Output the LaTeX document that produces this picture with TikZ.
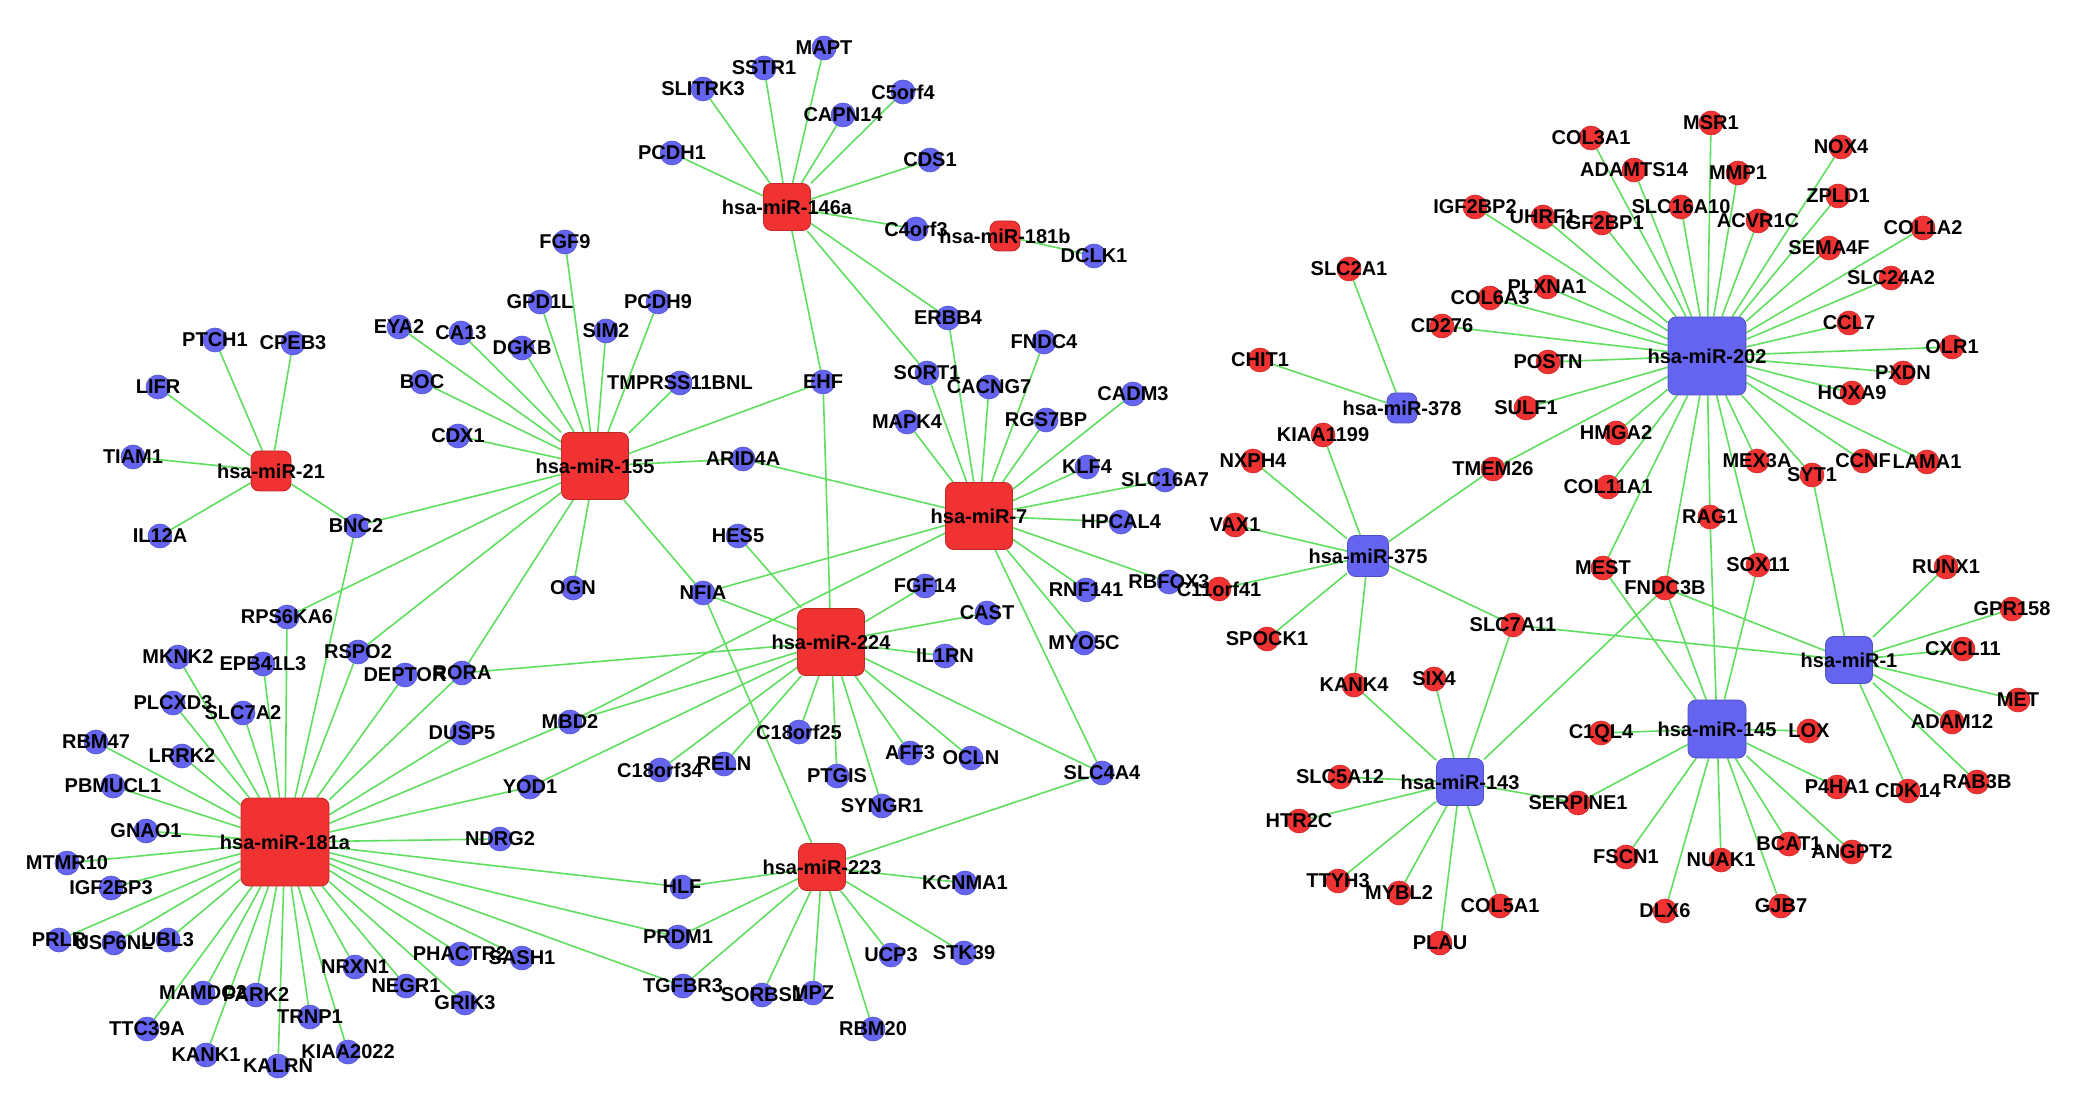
\documentclass[tikz,border=0pt]{standalone}
\usepackage{fontspec}
\setmainfont{Liberation Sans}
\pgfdeclarelayer{background}
\pgfdeclarelayer{foreground}
\pgfsetlayers{background,main,foreground}
\definecolor{blueg}{RGB}{100,100,240}
\definecolor{redg}{RGB}{240,50,50}
\definecolor{linkgreen}{RGB}{95,222,95}

\begin{document}
\begin{tikzpicture}[x=0.5pt, y=-0.5pt,
  gene/.style={circle, fill=#1, draw=#1!85!black, line width=0.3pt, minimum size=12pt, inner sep=0pt},
  mir/.style={rectangle, rounded corners=4pt, fill=#1, draw=#1!80!black, line width=0.4pt, inner sep=0pt},
  txt/.style={font=\bfseries\fontsize{10}{12}\selectfont, inner sep=0pt},
  tie/.style={draw=linkgreen, line width=0.8pt}]
  \useasboundingbox (0,0) rectangle (2098,1106);

  % miRNAs, up-regulated
  \foreach \x/\y/\s/\m/\t in {787/207/47/m146a/hsa-miR-146a, 1005/236/30/m181b/hsa-miR-181b,
      271/471/40/m21/hsa-miR-21, 595/466/67/m155/hsa-miR-155, 979/516/67/m7/hsa-miR-7,
      831/642/67/m224/hsa-miR-224, 285/842/88/m181a/hsa-miR-181a, 822/867/47/m223/hsa-miR-223}{
    \node[mir=redg, minimum size=\s*0.5pt] (\m) at (\x,\y) {};
    \begin{pgfonlayer}{foreground}\node[txt] at (\m) {\t};\end{pgfonlayer}
  }
  % miRNAs, down-regulated
  \foreach \x/\y/\s/\m/\t in {1707/356/78/m202/hsa-miR-202, 1402/408/30/m378/hsa-miR-378,
      1368/556/41/m375/hsa-miR-375, 1849/660/47/m1/hsa-miR-1,
      1717/729/58/m145/hsa-miR-145, 1460/782/47/m143/hsa-miR-143}{
    \node[mir=blueg, minimum size=\s*0.5pt] (\m) at (\x,\y) {};
    \begin{pgfonlayer}{foreground}\node[txt] at (\m) {\t};\end{pgfonlayer}
  }

  % Target genes, down-regulated
  \foreach \x/\y/\g in {215/340/PTCH1, 293/343/CPEB3, 158/387/LIFR, 133/457/TIAM1, 160/536/IL12A,
      356/526/BNC2, 399/327/EYA2, 461/333/CA13, 522/348/DGKB, 540/302/GPD1L, 565/242/FGF9,
      606/331/SIM2, 658/302/PCDH9, 422/382/BOC, 458/436/CDX1, 680/383/TMPRSS11BNL, 573/588/OGN,
      823/382/EHF, 743/459/ARID4A, 738/536/HES5, 703/593/NFIA, 672/153/PCDH1, 703/89/SLITRK3,
      764/68/SSTR1, 824/48/MAPT, 843/115/CAPN14, 903/92/C5orf4, 930/160/CDS1, 916/229/C4orf3,
      1094/256/DCLK1, 948/318/ERBB4, 927/373/SORT1, 1044/342/FNDC4, 989/387/CACNG7,
      907/422/MAPK4, 1046/420/RGS7BP, 1133/394/CADM3, 1087/467/KLF4, 1165/480/SLC16A7,
      1121/522/HPCAL4, 1169/582/RBFOX3, 1086/590/RNF141, 1084/643/MYO5C, 1102/773/SLC4A4,
      925/586/FGF14, 987/613/CAST, 945/656/IL1RN, 799/732/C18orf25, 660/770/C18orf34,
      724/764/RELN, 837/776/PTGIS, 910/753/AFF3, 971/758/OCLN, 882/806/SYNGR1, 570/722/MBD2,
      530/787/YOD1, 462/733/DUSP5, 500/839/NDRG2, 287/617/RPS6KA6, 178/657/MKNK2,
      263/664/EPB41L3, 358/652/RSPO2, 405/675/DEPTOR, 462/673/RORA, 173/703/PLCXD3,
      243/713/SLC7A2, 96/742/RBM47, 182/756/LRRK2, 113/786/PBMUCL1, 146/831/GNAO1,
      67/863/MTMR10, 111/888/IGF2BP3, 59/940/PRLR, 114/943/USP6NL, 168/940/UBL3,
      460/954/PHACTR2, 522/958/SASH1, 355/967/NRXN1, 203/993/MAMDC2, 256/995/PARK2,
      406/986/NEGR1, 465/1003/GRIK3, 310/1017/TRNP1, 147/1029/TTC39A, 206/1055/KANK1,
      348/1052/KIAA2022, 278/1066/KALRN, 682/887/HLF, 678/937/PRDM1, 683/986/TGFBR3,
      762/995/SORBS1, 813/993/MPZ, 873/1029/RBM20, 891/955/UCP3, 964/953/STK39, 965/883/KCNMA1}{
    \node[gene=blueg] (\g) at (\x,\y) {};
    \begin{pgfonlayer}{foreground}\node[txt] at (\g) {\g};\end{pgfonlayer}
  }

  % Target genes, up-regulated
  \foreach \x/\y/\g in {1349/269/SLC2A1, 1260/360/CHIT1, 1475/207/IGF2BP2, 1543/217/UHRF1,
      1602/223/IGF2BP1, 1591/138/COL3A1, 1634/170/ADAMTS14, 1681/207/SLC16A10, 1711/123/MSR1,
      1738/173/MMP1, 1758/221/ACVR1C, 1841/147/NOX4, 1838/196/ZPLD1, 1829/248/SEMA4F,
      1923/228/COL1A2, 1891/278/SLC24A2, 1849/323/CCL7, 1952/347/OLR1, 1903/373/PXDN,
      1852/393/HOXA9, 1547/287/PLXNA1, 1490/298/COL6A3, 1442/326/CD276, 1548/362/POSTN,
      1526/408/SULF1, 1323/435/KIAA1199, 1253/461/NXPH4, 1493/469/TMEM26, 1235/525/VAX1,
      1219/589/C11orf41, 1267/639/SPOCK1, 1354/685/KANK4, 1434/679/SIX4, 1513/625/SLC7A11,
      1616/433/HMGA2, 1608/487/COL11A1, 1757/461/MEX3A, 1863/461/CCNF, 1927/462/LAMA1,
      1812/475/SYT1, 1710/517/RAG1, 1603/568/MEST, 1758/565/SOX11, 1665/588/FNDC3B,
      1946/567/RUNX1, 2012/609/GPR158, 1963/649/CXCL11, 2018/700/MET, 1952/722/ADAM12,
      1977/782/RAB3B, 1908/791/CDK14, 1837/787/P4HA1, 1809/731/LOX, 1601/733/C1QL4,
      1578/803/SERPINE1, 1626/857/FSCN1, 1721/860/NUAK1, 1789/844/BCAT1, 1852/852/ANGPT2,
      1665/911/DLX6, 1781/906/GJB7, 1340/777/SLC5A12, 1299/821/HTR2C, 1338/881/TTYH3,
      1399/893/MYBL2, 1440/943/PLAU, 1500/906/COL5A1}{
    \node[gene=redg] (\g) at (\x,\y) {};
    \begin{pgfonlayer}{foreground}\node[txt] at (\g) {\g};\end{pgfonlayer}
  }

  % Interactions
  \begin{pgfonlayer}{background}
    \fill[white] (0,0) rectangle (2098,1106);
    \foreach \h/\list in {
        m146a/{PCDH1,SLITRK3,SSTR1,MAPT,CAPN14,C5orf4,CDS1,C4orf3,ERBB4,SORT1,EHF},
        m181b/{DCLK1},
        m21/{PTCH1,CPEB3,LIFR,TIAM1,IL12A,BNC2},
        m155/{EYA2,CA13,DGKB,GPD1L,FGF9,SIM2,PCDH9,TMPRSS11BNL,BOC,CDX1,EHF,ARID4A,OGN,NFIA,
          BNC2,RPS6KA6,RSPO2,RORA},
        m7/{ARID4A,NFIA,ERBB4,SORT1,MAPK4,CACNG7,RGS7BP,FNDC4,CADM3,KLF4,SLC16A7,HPCAL4,
          RBFOX3,RNF141,MYO5C,SLC4A4,MBD2},
        m224/{EHF,HES5,NFIA,FGF14,CAST,IL1RN,RORA,MBD2,YOD1,C18orf34,RELN,C18orf25,PTGIS,
          SYNGR1,AFF3,OCLN,SLC4A4},
        m181a/{RBM47,LRRK2,PBMUCL1,GNAO1,MTMR10,IGF2BP3,PRLR,USP6NL,UBL3,TTC39A,MAMDC2,KANK1,
          PARK2,KALRN,TRNP1,KIAA2022,NRXN1,NEGR1,GRIK3,PHACTR2,SASH1,NDRG2,YOD1,DUSP5,MBD2,
          DEPTOR,RORA,RSPO2,BNC2,RPS6KA6,EPB41L3,SLC7A2,MKNK2,PLCXD3,HLF,PRDM1,TGFBR3},
        m223/{NFIA,HLF,PRDM1,TGFBR3,SORBS1,MPZ,RBM20,UCP3,STK39,KCNMA1,SLC4A4},
        m202/{IGF2BP2,UHRF1,IGF2BP1,COL3A1,ADAMTS14,SLC16A10,MSR1,MMP1,ACVR1C,NOX4,ZPLD1,
          SEMA4F,COL1A2,SLC24A2,CCL7,OLR1,PXDN,HOXA9,LAMA1,CCNF,SYT1,MEX3A,SOX11,RAG1,FNDC3B,
          MEST,COL11A1,HMGA2,TMEM26,SULF1,POSTN,CD276,COL6A3,PLXNA1},
        m378/{SLC2A1,CHIT1},
        m375/{KIAA1199,NXPH4,VAX1,C11orf41,SPOCK1,KANK4,SLC7A11,TMEM26},
        m1/{SYT1,RUNX1,GPR158,CXCL11,MET,ADAM12,RAB3B,CDK14,FNDC3B,SLC7A11},
        m145/{C1QL4,LOX,FNDC3B,MEST,RAG1,SOX11,SERPINE1,FSCN1,DLX6,NUAK1,GJB7,BCAT1,ANGPT2,P4HA1},
        m143/{SLC5A12,HTR2C,TTYH3,MYBL2,PLAU,COL5A1,SERPINE1,KANK4,SIX4,SLC7A11,FNDC3B}}
      \foreach \t in \list
        \draw[tie] (\h) -- (\t);
  \end{pgfonlayer}
\end{tikzpicture}
\end{document}
